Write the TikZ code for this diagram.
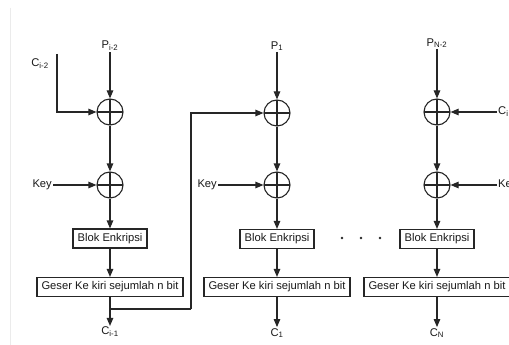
\documentclass[tikz,border=0pt]{standalone}
\usepackage{fontspec}
\setmainfont{Liberation Sans}
\usetikzlibrary{arrows.meta}
\begin{document}
\begin{tikzpicture}[x=1pt,y=-1pt,
  line/.style={draw=black!85, line width=1.1pt},
  arr/.style={line, -{Triangle[length=8pt,width=6.5pt]}},
  xor/.style={circle, draw=black!85, line width=1.1pt, minimum size=26pt, inner sep=0pt,
    path picture={\draw[black!85,line width=1.1pt]
      (path picture bounding box.north) -- (path picture bounding box.south)
      (path picture bounding box.west) -- (path picture bounding box.east);}},
  boxa/.style={rectangle, draw=black!85, line width=1.1pt, minimum height=19pt, inner sep=1pt,
    font=\fontsize{11.2}{13}\selectfont, text=black!90},
  blok/.style={boxa, minimum width=74pt},
  geser/.style={boxa, minimum width=146pt},
  lbl/.style={inner sep=1pt, font=\fontsize{11.2}{13}\selectfont, text=black!90},
  dotc/.style={circle, fill=black!85, inner sep=0pt, minimum size=2.6pt}
]
\useasboundingbox (0,0) rectangle (509,345);
\clip (0,0) rectangle (509,345);
\fill[white] (0,0) rectangle (509,345);
\draw[black!8, line width=0.8pt] (10,8) -- (10,345);

% column 1
\node[lbl] (p1) at (110,46) {P\textsubscript{i-2}};
\node[xor] (x11) at (110,112) {};
\node[xor] (x12) at (110,185) {};
\node[blok] (b1) at (110,238.5) {Blok Enkripsi};
\node[geser] (g1) at (110,287) {Geser Ke kiri sejumlah n bit};
\node[lbl] (c1) at (110,332) {C\textsubscript{i-1}};
\node[lbl] (ci2) at (40,64) {C\textsubscript{i-2}};
\node[lbl, anchor=east] (k1) at (53,185) {Key};
\coordinate (ctop) at (57,54);
\coordinate (fb) at (110,309);
\coordinate (fbr) at (191,309);

% column 2
\node[lbl] (p2) at (277,46) {P\textsubscript{1}};
\node[xor] (x21) at (277,113) {};
\node[xor] (x22) at (277,185) {};
\node[blok] (b2) at (277,239) {Blok Enkripsi};
\node[geser] (g2) at (277,287) {Geser Ke kiri sejumlah n bit};
\node[lbl] (c2) at (277,333) {C\textsubscript{1}};
\node[lbl, anchor=east] (k2) at (218,185) {Key};

% column 3
\node[lbl] (p3) at (437,43) {P\textsubscript{N-2}};
\node[xor] (x31) at (437,112) {};
\node[xor] (x32) at (437,185) {};
\node[blok] (b3) at (437,239) {Blok Enkripsi};
\node[geser] (g3) at (437,287) {Geser Ke kiri sejumlah n bit};
\node[lbl] (c3) at (437,333) {C\textsubscript{N}};
\node[lbl, anchor=west] (cr) at (497,112) {C\textsubscript{i}};
\node[lbl, anchor=west] (kr) at (497,185) {Key};

% dots
\node[dotc] (d1) at (342,238) {};
\node[dotc] (d2) at (361,238) {};
\node[dotc] (d3) at (380,238) {};

% connectors column 1
\draw[arr] (p1) -- (x11);
\draw[arr] (ctop) |- (x11);
\draw[arr] (x11) -- (x12);
\draw[arr] (k1) -- (x12);
\draw[arr] (x12) -- (b1);
\draw[arr] (b1) -- (g1);
\draw[arr] (g1) -- (c1);
\draw[line] (fb) -- (fbr);
\draw[arr] (fbr) |- (x21);

% connectors column 2
\draw[arr] (p2) -- (x21);
\draw[arr] (x21) -- (x22);
\draw[arr] (k2) -- (x22);
\draw[arr] (x22) -- (b2);
\draw[arr] (b2) -- (g2);
\draw[arr] (g2) -- (c2);

% connectors column 3
\draw[arr] (p3) -- (x31);
\draw[arr] (x31) -- (x32);
\draw[arr] (cr) -- (x31);
\draw[arr] (kr) -- (x32);
\draw[arr] (x32) -- (b3);
\draw[arr] (b3) -- (g3);
\draw[arr] (g3) -- (c3);
\end{tikzpicture}
\end{document}
